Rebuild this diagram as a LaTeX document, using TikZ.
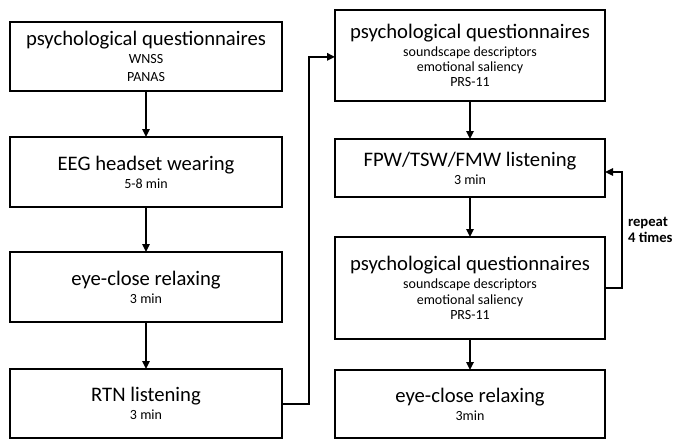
\documentclass[tikz,border=0pt]{standalone}
\usepackage{fontspec}
\setmainfont{Carlito}
\usetikzlibrary{arrows.meta,positioning,calc}
\newcommand{\stagetitle}[1]{{\fontsize{15.5}{18}\selectfont #1}}
\tikzset{
  stage/.style={draw,line width=1.5pt,inner sep=0pt,outer sep=0pt,align=center,
    minimum width=204pt,font=\fontsize{10.5}{11.5}\selectfont},
  widestage/.style={stage,minimum width=202.5pt},
  arrow/.style={-{Triangle[length=6pt,width=5.5pt]},line width=1.5pt},
  note/.style={align=left,inner sep=2pt,font=\bfseries\fontsize{11}{12.5}\selectfont}
}
\begin{document}
\begin{tikzpicture}[x=0.75pt,y=-0.75pt]
  \useasboundingbox (0,0) rectangle (673,440);
  % left column
  \node[stage,minimum height=51.75pt,font=\fontsize{10.5}{13.7}\selectfont] (q1) at (146,56.5)
    {\stagetitle{psychological questionnaires}\\WNSS\\PANAS};
  \node[stage,minimum height=52.5pt,below=34.5pt of q1] (eeg)
    {\stagetitle{EEG headset wearing}\\[2pt]5-8 min};
  \node[stage,minimum height=52.5pt,below=33.75pt of eeg] (relaxa)
    {\stagetitle{eye-close relaxing}\\[2pt]3 min};
  \node[stage,minimum height=51.75pt,below=35.25pt of relaxa] (rtn)
    {\stagetitle{RTN listening}\\[2pt]3 min};
  % right column
  \node[widestage,minimum height=68.25pt] (q2) at (470,55.5)
    {\stagetitle{psychological questionnaires}\\[1.8pt]soundscape descriptors\\emotional saliency\\PRS-11};
  \node[widestage,minimum height=43.5pt,below=28.5pt of q2] (listen)
    {\stagetitle{FPW/TSW/FMW listening}\\[2pt]3 min};
  \node[widestage,minimum height=76.5pt,below=30pt of listen] (q3)
    {\stagetitle{psychological questionnaires}\\[1.8pt]soundscape descriptors\\emotional saliency\\PRS-11};
  \node[widestage,minimum height=51pt,below=23.25pt of q3] (relaxb)
    {\stagetitle{eye-close relaxing}\\[2pt]3min};
  % connectors
  \draw[arrow] (q1) -- (eeg);
  \draw[arrow] (eeg) -- (relaxa);
  \draw[arrow] (relaxa) -- (rtn);
  \coordinate (bend) at ($(rtn.east)!0.5!(q2.west)$);
  \draw[arrow] (rtn.east) -- (rtn.east -| bend) |- ([yshift=-1pt]q2.west);
  \draw[arrow] (q2) -- (listen);
  \draw[arrow] (listen) -- (q3);
  \draw[arrow] (q3) -- (relaxb);
  \coordinate[right=12.75pt of q3.east] (loopx);
  \draw[arrow] (q3.east) -- (loopx) |- node[note,pos=0.25,right=1.75pt] (rep) {repeat\\4 times}
    ([yshift=-3pt]listen.east);
\end{tikzpicture}
\end{document}
